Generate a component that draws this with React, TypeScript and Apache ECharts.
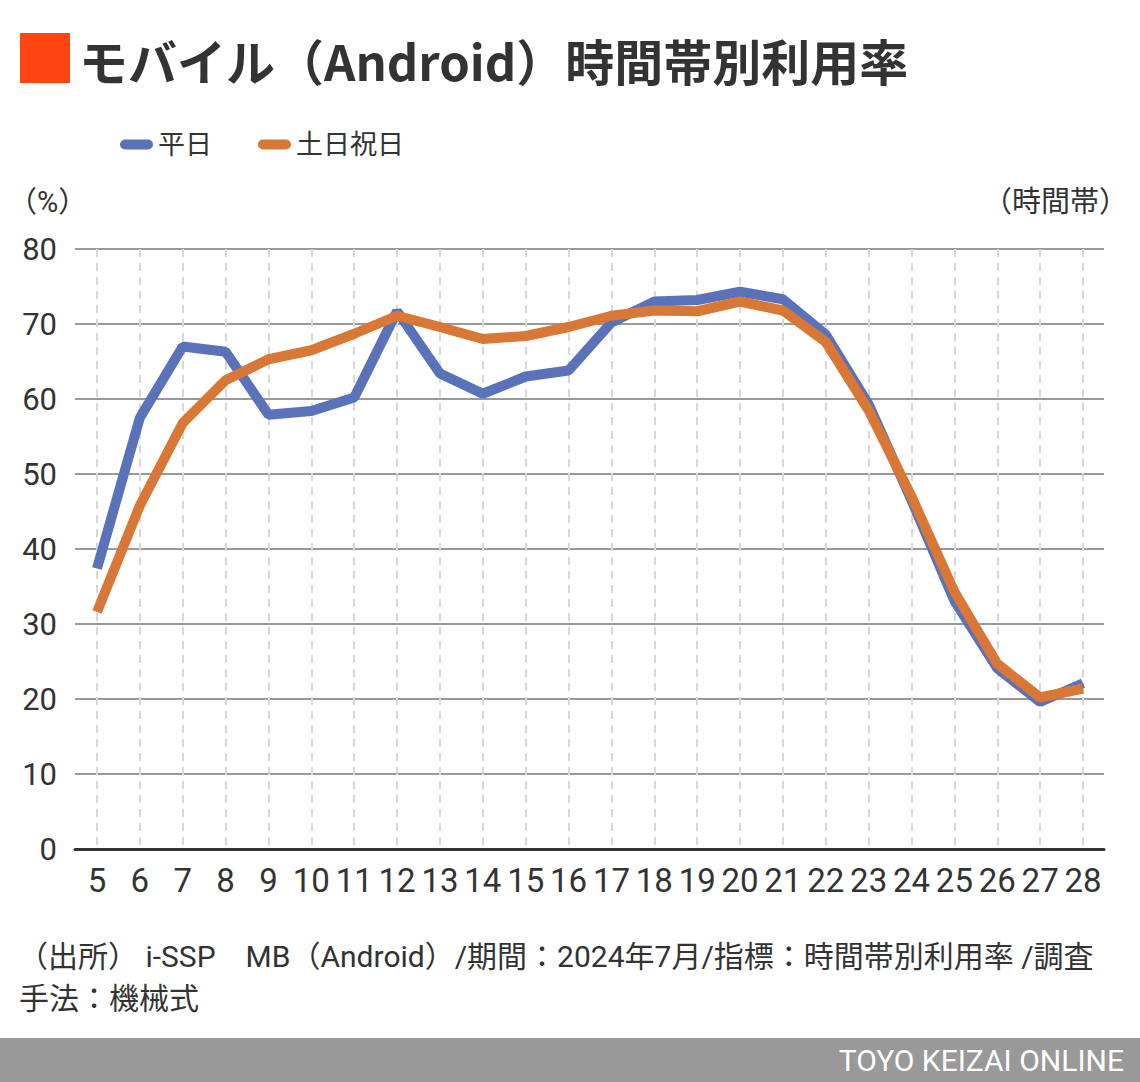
import React, { useEffect, useRef } from "react";
import * as echarts from "echarts";

const hours = ["5","6","7","8","9","10","11","12","13","14","15","16","17","18","19","20","21","22","23","24","25","26","27","28"];
const weekday = [37.4, 57.5, 67.0, 66.3, 57.9, 58.4, 60.2, 71.7, 63.4, 60.7, 63.0, 63.8, 70.2, 73.0, 73.2, 74.3, 73.3, 68.6, 59.3, 46.5, 33.1, 24.1, 19.6, 22.1];
const holiday = [31.6, 45.8, 56.8, 62.5, 65.3, 66.5, 68.7, 71.1, 69.6, 68.0, 68.4, 69.6, 71.1, 71.8, 71.7, 73.0, 71.8, 67.6, 58.5, 47.0, 34.3, 24.7, 20.2, 21.4];
const seriesNames = ["平日", "土日祝日"];
const yTicks = { min: 0, max: 80, interval: 10 };

const TITLE = "モバイル（Android）時間帯別利用率";
const SOURCE1 = "（出所） i-SSP　MB（Android）/期間：2024年7月/指標：時間帯別利用率 /調査";
const SOURCE2 = "手法：機械式";
const FOOTER = "TOYO KEIZAI ONLINE";

const FONT = "Roboto, 'Noto Sans CJK JP', sans-serif";
const BLUE = "#5a72b9";
const ORANGE = "#d97836";
const TEXT = "#333333";

export default function App() {
  const ref = useRef<HTMLDivElement>(null);
  useEffect(() => {
    document.body.style.margin = "0";
    const chart = echarts.init(ref.current!, null, { renderer: "svg" });
    const pill = "path://M5,0 H28 A5,5 0 0 1 28,10 H5 A5,5 0 0 1 5,0 Z";
    chart.setOption({
      animation: false,
      backgroundColor: "#ffffff",
      textStyle: { fontFamily: FONT },
      legend: {
        left: 115,
        top: 126,
        itemWidth: 33,
        itemHeight: 10,
        itemGap: 46,
        textStyle: { fontSize: 27, color: TEXT, fontFamily: FONT },
        data: [
          { name: seriesNames[0], icon: pill },
          { name: seriesNames[1], icon: pill },
        ],
      },
      grid: [
        { left: 75, right: 36, top: 249, bottom: 233 },
        { left: 97, right: 57, top: 249, bottom: 233 },
      ],
      xAxis: [
        {
          gridIndex: 0,
          type: "value",
          min: 0,
          max: 1,
          axisLine: { show: true, onZero: false, lineStyle: { color: "#333333", width: 3 } },
          axisLabel: { show: false },
          axisTick: { show: false },
          splitLine: { show: false },
          z: 5,
        },
        {
          gridIndex: 1,
          type: "category",
          boundaryGap: false,
          data: hours,
          axisLine: { show: false },
          axisTick: { show: false },
          axisLabel: { interval: 0, fontSize: 33, color: TEXT, margin: 15, fontFamily: FONT },
          splitLine: { show: true, interval: 0, lineStyle: { color: "#d8d8d8", width: 2, type: [8, 6] } },
        },
      ],
      yAxis: [
        {
          gridIndex: 0,
          type: "value",
          min: yTicks.min,
          max: yTicks.max,
          interval: yTicks.interval,
          axisLine: { show: false },
          axisTick: { show: false },
          axisLabel: { fontSize: 31, color: TEXT, margin: 18, fontFamily: FONT },
          splitLine: { lineStyle: { color: "#999999", width: 2 } },
        },
        {
          gridIndex: 1,
          type: "value",
          min: yTicks.min,
          max: yTicks.max,
          interval: yTicks.interval,
          show: false,
          splitLine: { show: false },
        },
      ],
      series: [
        {
          name: seriesNames[0],
          type: "line",
          xAxisIndex: 1,
          yAxisIndex: 1,
          data: weekday,
          symbol: "none",
          color: BLUE,
          lineStyle: { color: BLUE, width: 10 },
          z: 10,
        },
        {
          name: seriesNames[1],
          type: "line",
          xAxisIndex: 1,
          yAxisIndex: 1,
          data: holiday,
          symbol: "none",
          color: ORANGE,
          lineStyle: { color: ORANGE, width: 10 },
          z: 11,
        },
      ],
      graphic: [
        { type: "rect", left: 20, top: 33, shape: { width: 50, height: 50 }, style: { fill: "#ff4512" } },
        {
          type: "text",
          x: 79,
          y: 59,
          style: {
            text: TITLE,
            fill: TEXT,
            font: `bold 49px 'Noto Sans CJK JP', sans-serif`,
            verticalAlign: "middle",
          },
        },
        {
          type: "text",
          x: 8,
          y: 202,
          style: { text: "（%）", fill: TEXT, font: `29px ${FONT}`, verticalAlign: "middle" },
        },
        {
          type: "text",
          x: 1128,
          y: 202,
          style: { text: "（時間帯）", fill: TEXT, font: `29px ${FONT}`, verticalAlign: "middle", align: "right" },
        },
        {
          type: "text",
          x: 18,
          y: 956,
          style: { text: SOURCE1, fill: TEXT, font: `30px ${FONT}`, verticalAlign: "middle" },
        },
        {
          type: "text",
          x: 19,
          y: 998,
          style: { text: SOURCE2, fill: TEXT, font: `30px ${FONT}`, verticalAlign: "middle" },
        },
        { type: "rect", left: 0, top: 1038, shape: { width: 1140, height: 44 }, style: { fill: "#999999" } },
        {
          type: "text",
          x: 1124,
          y: 1060,
          style: { text: FOOTER, fill: "#ffffff", font: `30px ${FONT}`, verticalAlign: "middle", align: "right" },
        },
      ],
    });
    return () => chart.dispose();
  }, []);
  return <div ref={ref} style={{ width: 1140, height: 1082 }} />;
}
